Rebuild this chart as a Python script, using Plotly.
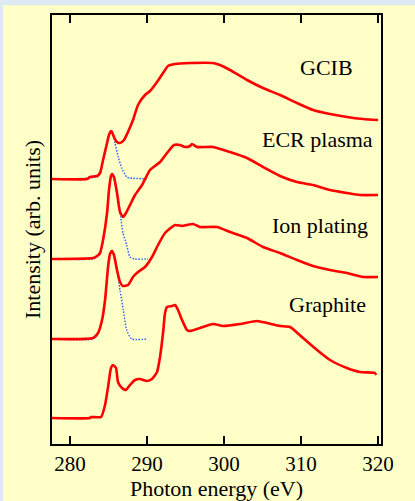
import plotly.graph_objects as go

# ---- data (photon energy in eV, intensity in arb. units) ----
gcib_e = [277.66, 282.21, 282.6, 283.51, 283.9, 284.29, 284.81, 285.06, 285.32, 285.45, 285.71, 286.10, 286.49,
          287.01, 287.53, 288.18, 288.83, 289.74, 290.39, 291.30, 292.08, 292.73, 293.64, 295.58, 298.57, 299.48,
          300.78, 302.99, 305.06, 307.27, 309.48, 311.56, 313.77, 315.97, 318.05, 320.0]
gcib_i = [26.5, 26.5, 26.7, 26.8, 27.1, 28.4, 30.1, 30.9, 31.3, 31.2, 30.7, 30.2, 30.1,
          30.4, 31.2, 32.4, 33.9, 34.9, 35.3, 36.2, 37.1, 37.8, 38.0, 38.1, 38.1, 37.9,
          37.4, 36.4, 35.6, 34.9, 34.1, 33.4, 33.0, 32.7, 32.5, 32.4]

ecr_e = [277.66, 282.99, 283.51, 283.90, 284.29, 284.81, 285.06, 285.32, 285.45, 285.71, 286.10, 286.49, 286.88,
         287.27, 287.79, 288.44, 289.35, 290.39, 291.69, 292.60, 293.51, 294.29, 294.94, 295.58, 295.84, 296.49,
         298.57, 300.78, 302.99, 305.06, 307.27, 309.48, 311.56, 313.77, 315.97, 317.66, 320.0]
ecr_i = [18.5, 18.6, 18.8, 19.1, 20.4, 23.1, 25.4, 26.8, 27.0, 26.7, 25.1, 23.2, 22.7,
         23.1, 23.9, 24.9, 25.9, 27.4, 28.2, 29.1, 29.9, 29.9, 29.7, 29.8, 30.0, 29.7,
         29.7, 29.2, 28.6, 27.7, 26.8, 26.2, 25.9, 25.4, 25.1, 24.9, 24.9]

ion_e = [277.66, 282.99, 283.64, 284.16, 284.55, 284.94, 285.19, 285.45, 285.71, 286.10, 286.49, 286.88, 287.53,
         288.18, 288.83, 289.74, 290.65, 291.43, 292.34, 293.64, 294.55, 295.19, 295.97, 296.88, 299.09, 300.78,
         302.99, 305.06, 307.27, 309.48, 311.56, 313.77, 315.97, 318.05, 320.0]
ion_i = [10.5, 10.6, 11.1, 12.4, 14.4, 17.7, 19.0, 19.3, 18.9, 17.4, 16.2, 15.8, 15.9,
         16.7, 17.2, 17.7, 18.7, 19.9, 21.1, 21.9, 21.8, 21.9, 22.0, 21.7, 21.7, 21.2,
         20.6, 19.7, 19.1, 18.4, 17.8, 17.4, 17.1, 16.7, 16.7]

gra_e = [277.66, 282.6, 282.73, 284.03, 284.55, 284.94, 285.32, 285.58, 285.97, 286.23, 286.75, 287.27, 287.79,
         288.44, 289.09, 290.00, 290.65, 291.30, 291.69, 292.08, 292.34, 292.60, 293.25, 293.64, 294.03, 294.55,
         295.19, 295.58, 296.88, 298.57, 299.87, 302.08, 304.29, 305.58, 307.27, 308.57, 310.26, 312.08, 313.77,
         315.97, 317.66, 319.61, 319.74]
gra_i = [2.6, 2.6, 2.7, 2.7, 3.9, 5.7, 7.6, 7.9, 7.6, 6.2, 5.6, 5.4, 5.9,
         6.4, 6.5, 6.3, 6.5, 7.2, 8.7, 11.1, 13.1, 13.7, 13.8, 13.9, 13.4, 12.4,
         11.4, 11.3, 11.6, 12.0, 11.8, 12.0, 12.3, 12.1, 11.8, 11.7, 10.6, 9.4, 8.4,
         7.6, 7.2, 7.1, 6.9]

# fitted pi* peaks (blue dotted)
gcib_fit_e = [277.66, 283.51, 283.90, 284.29, 284.81, 285.06, 285.32, 285.58, 285.84, 286.27, 286.71, 287.36, 287.79, 290.13]
gcib_fit_i = [26.5, 26.7, 27.0, 28.3, 30.0, 30.9, 31.3, 31.0, 30.1, 28.7, 27.6, 26.7, 26.6, 26.5]

ecr_fit_e = [277.66, 282.99, 283.51, 283.90, 284.29, 284.81, 285.06, 285.32, 285.45, 285.71, 286.27, 286.58, 286.88,
             287.36, 287.79, 288.44, 290.13]
ecr_fit_i = [18.5, 18.5, 18.7, 19.0, 20.3, 23.0, 25.3, 26.7, 27.0, 26.6, 24.7, 22.7, 21.1,
             19.9, 18.7, 18.5, 18.5]

ion_fit_e = [277.66, 282.99, 283.64, 284.16, 284.55, 284.94, 285.19, 285.45, 285.71, 286.06, 286.49, 286.92, 287.36,
             288.01, 290.00]
ion_fit_i = [10.5, 10.5, 11.0, 12.3, 14.3, 17.6, 19.0, 19.3, 18.9, 17.7, 15.4, 13.4, 11.4,
             10.5, 10.5]

labels = ["GCIB", "ECR plasma", "Ion plating", "Graphite"]
label_x = [313.25, 312.2, 312.47, 313.38]
label_y = [37.7, 30.5, 21.9, 14.0]

x_ticks = [280, 290, 300, 310, 320]

FONT = "Liberation Serif, Times New Roman, serif"
RED = "#ff0000"
BLUE = "#2f5cff"
YELLOW = "#ffffc8"
BORDER = "#dde9f3"

fig = go.Figure()
for e, i in [(gcib_fit_e, gcib_fit_i), (ecr_fit_e, ecr_fit_i), (ion_fit_e, ion_fit_i)]:
    fig.add_trace(go.Scatter(x=e, y=i, mode="lines",
                             line=dict(color=BLUE, width=1.4, dash="1.5px,1.5px", shape="spline", smoothing=0.6),
                             showlegend=False, hoverinfo="skip"))
for e, i in [(gcib_e, gcib_i), (ecr_e, ecr_i), (ion_e, ion_i), (gra_e, gra_i)]:
    fig.add_trace(go.Scatter(x=e, y=i, mode="lines", line=dict(color=RED, width=2.6, shape="spline", smoothing=0.5),
                             showlegend=False, hoverinfo="skip"))

for t, x, y in zip(labels, label_x, label_y):
    fig.add_annotation(x=x, y=y, text=t, showarrow=False, xanchor="center", yanchor="middle",
                       font=dict(family=FONT, size=22, color="black"))

fig.add_shape(type="rect", xref="paper", yref="paper", x0=-0.149, x1=1.11, y0=-0.14, y1=1.0233,
              fillcolor=YELLOW, line=dict(width=0), layer="below")

fig.update_layout(
    width=415, height=501,
    margin=dict(l=52, r=34, t=15, b=57),
    paper_bgcolor=BORDER, plot_bgcolor=YELLOW,
    font=dict(family=FONT, size=21, color="black"),
    xaxis=dict(range=[277.66, 320.39], tickvals=x_ticks, ticktext=[str(v) for v in x_ticks],
               ticks="inside", ticklen=8, tickwidth=2, tickcolor="black",
               showline=True, linecolor="black", linewidth=2, mirror="ticks",
               showgrid=False, zeroline=False, automargin=False,
               tickfont=dict(family=FONT, size=21),
               title=dict(text="Photon energy (eV)", font=dict(family=FONT, size=22))),
    yaxis=dict(range=[0, 42.9], showticklabels=False, ticks="",
               showline=True, linecolor="black", linewidth=2, mirror=True,
               showgrid=False, zeroline=False, automargin=False,
               title=dict(text="Intensity (arb. units)", font=dict(family=FONT, size=22), standoff=3)),
)

fig.write_html("out.html", config={"displayModeBar": False},
               post_script="document.body.style.margin='0';document.body.style.background='%s';" % BORDER)
